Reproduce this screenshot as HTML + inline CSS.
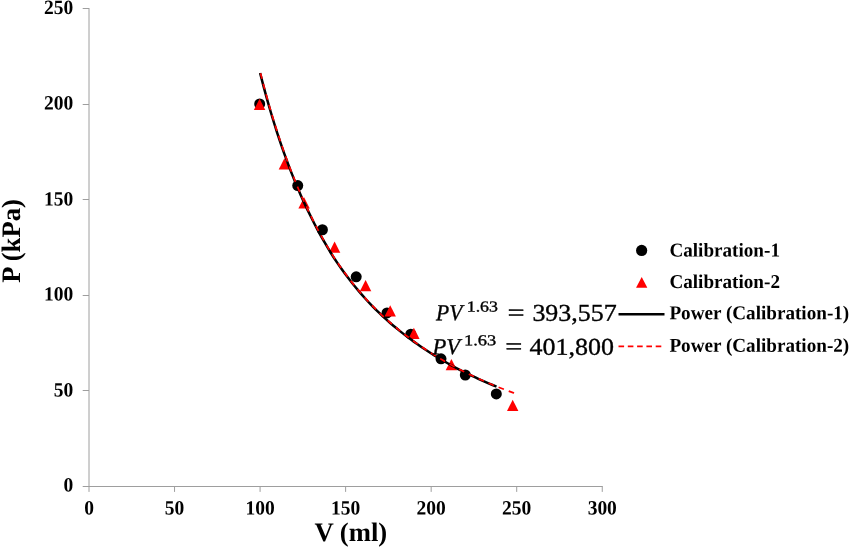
<!DOCTYPE html>
<html lang="en"><head><meta charset="utf-8"><title>PV calibration chart</title>
<style>html,body{margin:0;padding:0;background:#fff;}body{width:850px;height:548px;overflow:hidden;}svg{display:block;}text{font-family:'Liberation Serif', 'DejaVu Serif', serif;fill:#000;}.b{font-weight:bold;}</style></head><body>
<svg width="850" height="548" viewBox="0 0 850 548">
<rect width="850" height="548" fill="#fff"/>
<g stroke="#9e9e9e" stroke-width="1" fill="none">
<path d="M89.00 8.00 V487.00"/>
<path d="M88.50 486.50 H602.75"/>
<path d="M89.00 486.50 V491.90"/>
<path d="M174.54 486.50 V491.90"/>
<path d="M260.08 486.50 V491.90"/>
<path d="M345.62 486.50 V491.90"/>
<path d="M431.17 486.50 V491.90"/>
<path d="M516.71 486.50 V491.90"/>
<path d="M602.25 486.50 V491.90"/>
<path d="M82.70 486.50 H89.00"/>
<path d="M82.70 390.50 H89.00"/>
<path d="M82.70 295.50 H89.00"/>
<path d="M82.70 199.50 H89.00"/>
<path d="M82.70 104.50 H89.00"/>
<path d="M82.70 8.50 H89.00"/>
</g>
<g class="b" font-size="19.50">
<text transform="translate(89.00 514.40) rotate(0.03) scale(1 1.040)" text-anchor="middle">0</text>
<text transform="translate(174.54 514.40) rotate(0.03) scale(1 1.040)" text-anchor="middle">50</text>
<text transform="translate(260.08 514.40) rotate(0.03) scale(1 1.040)" text-anchor="middle">100</text>
<text transform="translate(345.62 514.40) rotate(0.03) scale(1 1.040)" text-anchor="middle">150</text>
<text transform="translate(431.17 514.40) rotate(0.03) scale(1 1.040)" text-anchor="middle">200</text>
<text transform="translate(516.71 514.40) rotate(0.03) scale(1 1.040)" text-anchor="middle">250</text>
<text transform="translate(602.25 514.40) rotate(0.03) scale(1 1.040)" text-anchor="middle">300</text>
<text transform="translate(73.2 491.40) rotate(0.03) scale(1 1.040)" text-anchor="end">0</text>
<text transform="translate(73.2 396.60) rotate(0.03) scale(1 1.040)" text-anchor="end">50</text>
<text transform="translate(73.2 300.60) rotate(0.03) scale(1 1.040)" text-anchor="end">100</text>
<text transform="translate(73.2 205.40) rotate(0.03) scale(1 1.040)" text-anchor="end">150</text>
<text transform="translate(73.2 109.60) rotate(0.03) scale(1 1.040)" text-anchor="end">200</text>
<text transform="translate(73.2 14.10) rotate(0.03) scale(1 1.040)" text-anchor="end">250</text>
</g>
<text class="b" font-size="26.67" transform="translate(350.8 540.9) rotate(0.03)" text-anchor="middle">V (ml)</text>
<text class="b" font-size="26.67" transform="translate(20 240.9) rotate(-90.03)" text-anchor="middle">P (kPa)</text>
<g fill="#000">
<circle cx="259.70" cy="103.90" r="5.5"/>
<circle cx="297.75" cy="185.60" r="5.5"/>
<circle cx="322.40" cy="229.75" r="5.5"/>
<circle cx="356.20" cy="276.80" r="5.5"/>
<circle cx="387.00" cy="312.90" r="5.5"/>
<circle cx="410.80" cy="334.20" r="5.5"/>
<circle cx="441.00" cy="358.85" r="5.5"/>
<circle cx="465.30" cy="375.00" r="5.5"/>
<circle cx="496.30" cy="393.90" r="5.5"/>
</g><g fill="#ff0000">
<path d="M259.60 98.70 L265.30 109.90 L253.90 109.90 Z"/>
<path d="M284.40 158.20 L290.10 169.40 L278.70 169.40 Z"/>
<path d="M304.10 197.30 L309.80 208.50 L298.40 208.50 Z"/>
<path d="M334.60 241.60 L340.30 252.80 L328.90 252.80 Z"/>
<path d="M365.60 280.00 L371.30 291.20 L359.90 291.20 Z"/>
<path d="M390.20 305.20 L395.90 316.40 L384.50 316.40 Z"/>
<path d="M413.90 327.80 L419.60 339.00 L408.20 339.00 Z"/>
<path d="M451.40 359.10 L457.10 370.30 L445.70 370.30 Z"/>
<path d="M512.70 399.70 L518.40 410.90 L507.00 410.90 Z"/>
</g>
<path d="M260.08 72.98 L263.49 86.12 L266.89 98.60 L270.29 110.47 L273.69 121.76 L277.10 132.51 L280.50 142.77 L283.90 152.55 L287.30 161.90 L290.69 170.83 L294.08 179.38 L297.48 187.57 L300.87 195.40 L304.26 202.92 L307.66 210.13 L311.05 217.05 L314.41 223.72 L317.76 230.13 L321.12 236.30 L324.48 242.24 L327.84 247.97 L331.20 253.48 L334.57 258.80 L338.00 263.89 L341.43 268.79 L344.86 273.53 L348.29 278.10 L351.72 282.52 L355.15 286.79 L358.59 290.92 L362.02 294.91 L365.45 298.78 L368.88 302.52 L372.33 306.13 L375.79 309.60 L379.26 312.97 L382.72 316.24 L386.18 319.40 L389.64 322.47 L393.10 325.45 L396.56 328.33 L400.01 331.14 L403.47 333.86 L406.91 336.51 L410.35 339.11 L413.78 341.63 L417.21 344.08 L420.64 346.47 L424.08 348.79 L427.51 351.05 L430.94 353.26 L434.37 355.40 L437.80 357.49 L441.23 359.53 L444.65 361.53 L448.07 363.48 L451.49 365.38 L454.91 367.24 L458.33 369.05 L461.75 370.81 L465.18 372.54 L468.60 374.23 L472.02 375.87 L475.44 377.48 L478.86 379.05 L482.28 380.59 L485.71 382.09 L489.13 383.55 L492.55 384.99 L495.97 386.39 L496.49 386.60" fill="none" stroke="#000" stroke-width="2.5" stroke-linecap="butt"/>
<path d="M260.53 73.23 L263.94 86.36 L267.34 98.83 L270.74 110.69 L274.14 121.97 L277.55 132.72 L280.95 142.97 L284.35 152.75 L287.75 162.09 L291.14 171.01 L294.53 179.56 L297.93 187.73 L301.32 195.57 L304.71 203.08 L308.11 210.28 L311.50 217.19 L314.86 223.86 L318.21 230.27 L321.57 236.43 L324.93 242.37 L328.29 248.08 L331.65 253.59 L335.02 258.91 L338.45 263.99 L341.88 268.89 L345.31 273.62 L348.74 278.19 L352.17 282.61 L355.60 286.87 L359.04 290.99 L362.47 294.98 L365.90 298.84 L369.33 302.58 L372.78 306.18 L376.24 309.66 L379.71 313.02 L383.17 316.29 L386.63 319.45 L390.09 322.51 L393.55 325.48 L397.01 328.37 L400.46 331.17 L403.92 333.88 L407.36 336.54 L410.80 339.13 L414.23 341.65 L417.66 344.10 L421.09 346.48 L424.53 348.80 L427.96 351.06 L431.39 353.26 L434.82 355.40 L438.25 357.48 L441.68 359.52 L445.10 361.52 L448.52 363.47 L451.94 365.37 L455.36 367.22 L458.78 369.03 L462.20 370.79 L465.63 372.52 L469.05 374.20 L472.47 375.84 L475.89 377.45 L479.31 379.02 L482.73 380.55 L486.16 382.05 L489.58 383.52 L493.00 384.95 L496.42 386.35 L499.85 387.71 L503.27 389.05 L506.70 390.35 L510.12 391.63 L513.55 392.88 L514.06 393.06" fill="none" stroke="#ff0000" stroke-width="1.7" stroke-dasharray="5.700 5.149"/>
<circle cx="641.65" cy="250.45" r="5.6" fill="#000"/>
<g fill="#ff0000"><path d="M641.70 277.10 L647.35 287.70 L636.05 287.70 Z"/></g>
<path d="M618.5 314.2 H664.5" stroke="#000" stroke-width="2.4" fill="none"/>
<path d="M618.5 346.4 H664.5" stroke="#ff0000" stroke-width="1.6" stroke-dasharray="5.6 3.7" fill="none"/>
<g class="b" font-size="19.15">
<text transform="translate(669.4 256.4) rotate(0.03) scale(1 1.025)">Calibration-1</text>
<text transform="translate(669.4 288.0) rotate(0.03) scale(1 1.025)">Calibration-2</text>
<text transform="translate(669.4 319.2) rotate(0.03) scale(1 1.025)">Power (Calibration-1)</text>
<text transform="translate(669.4 351.7) rotate(0.03) scale(1 1.025)">Power (Calibration-2)</text>
</g>
<g stroke="#000" stroke-width="0.35" transform="rotate(0.03 520 320.0)"><text font-style="italic" font-size="23" x="436.10" y="320.30" textLength="26.30" lengthAdjust="spacingAndGlyphs">PV</text><text font-size="15.3" x="466.70" y="311.50" textLength="31.30" lengthAdjust="spacingAndGlyphs">1.63</text><text font-size="24.5" x="507.50" y="320.80" textLength="17.1" lengthAdjust="spacingAndGlyphs">=</text><text font-size="24" x="532.40" y="320.70" textLength="84.30" lengthAdjust="spacingAndGlyphs">393,557</text></g>
<g stroke="#000" stroke-width="0.35" transform="rotate(0.03 520 353.6)"><text font-style="italic" font-size="23" x="432.40" y="354.40" textLength="27.60" lengthAdjust="spacingAndGlyphs">PV</text><text font-size="15.3" x="464.00" y="345.30" textLength="32.30" lengthAdjust="spacingAndGlyphs">1.63</text><text font-size="24.5" x="505.30" y="354.40" textLength="17.1" lengthAdjust="spacingAndGlyphs">=</text><text font-size="24" x="529.60" y="354.70" textLength="84.40" lengthAdjust="spacingAndGlyphs">401,800</text></g>
</svg></body></html>
